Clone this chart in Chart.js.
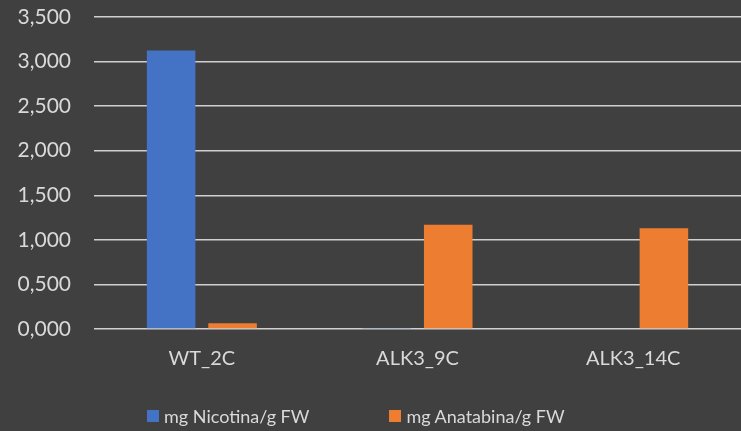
<!DOCTYPE html>
<html>
<head>
<meta charset="utf-8">
<script src="https://cdn.jsdelivr.net/npm/chart.js@4/dist/chart.umd.min.js"></script>
<style>
  html, body { margin: 0; padding: 0; background: #404040; }
  #wrap { width: 741px; height: 431px; position: relative; }
  #leyenda {
    position: absolute; left: 147px; top: 404px;
    display: flex; gap: 80px;
    font-family: Lato, "Liberation Sans", sans-serif; font-size: 18px; color: #d9d9d9;
    line-height: 24px; white-space: nowrap;
  }
  #leyenda .item { display: flex; align-items: center; }
  #leyenda .caja { width: 12px; height: 12px; margin-right: 5px; }
</style>
</head>
<body>
<div id="wrap">
  <canvas id="myChart"></canvas>
  <div id="leyenda"></div>
</div>
<script>
// datos
const categorias = ['WT_2C', 'ALK3_9C', 'ALK3_14C'];
const nicotina = [3.125, 0.01, 0.008];
const anatabina = [0.065, 1.17, 1.13];
const serieNombres = ['mg Nicotina/g FW', 'mg Anatabina/g FW'];
const serieColores = ['#4472C4', '#ED7D31'];
const ejeY = { min: 0, max: 3.5, paso: 0.5 };

const colorTexto = '#d9d9d9';
const fuente = 'Lato, "Liberation Sans", sans-serif';

document.addEventListener('DOMContentLoaded', function() {
    const ctx = document.getElementById('myChart').getContext('2d');

    const chart = new Chart(ctx, {
        type: 'bar',
        data: {
            labels: categorias,
            datasets: [
                {
                    label: serieNombres[0],
                    data: nicotina,
                    backgroundColor: serieColores[0],
                    barPercentage: 0.79,
                    categoryPercentage: 0.57
                },
                {
                    label: serieNombres[1],
                    data: anatabina,
                    backgroundColor: serieColores[1],
                    barPercentage: 0.79,
                    categoryPercentage: 0.57
                }
            ]
        },
        options: {
            responsive: true,
            maintainAspectRatio: false,
            animation: false,
            layout: { padding: { top: 0, right: 0, bottom: 44, left: 0 } },
            plugins: {
                tooltip: { enabled: false },
                legend: { display: false }
            },
            scales: {
                x: {
                    grid: { display: false, drawTicks: false },
                    border: { display: false },
                    ticks: {
                        color: colorTexto,
                        font: { family: fuente, size: 20 },
                        padding: 18
                    },
                    afterFit: function(scale) { scale.height = 58; }
                },
                y: {
                    min: ejeY.min,
                    max: ejeY.max,
                    border: { display: false },
                    grid: { color: '#d0d0d0', lineWidth: 1.5, drawTicks: false },
                    ticks: {
                        stepSize: ejeY.paso,
                        color: colorTexto,
                        font: { family: fuente, size: 21 },
                        padding: 23,
                        callback: function(v) { return v.toFixed(3).replace('.', ','); }
                    },
                    afterFit: function(scale) {
                        scale.width = 94;
                        scale.paddingTop = 17;  // la línea de 3,500 queda a 17px del borde
                        scale.paddingBottom = 0;
                    }
                }
            }
        }
    });

    // leyenda en HTML a partir de los datasets
    const leyenda = document.getElementById('leyenda');
    chart.data.datasets.forEach(function(ds) {
        const item = document.createElement('div');
        item.className = 'item';
        const caja = document.createElement('span');
        caja.className = 'caja';
        caja.style.background = ds.backgroundColor;
        const texto = document.createElement('span');
        texto.textContent = ds.label;
        item.appendChild(caja);
        item.appendChild(texto);
        leyenda.appendChild(item);
    });
});
</script>
</body>
</html>
